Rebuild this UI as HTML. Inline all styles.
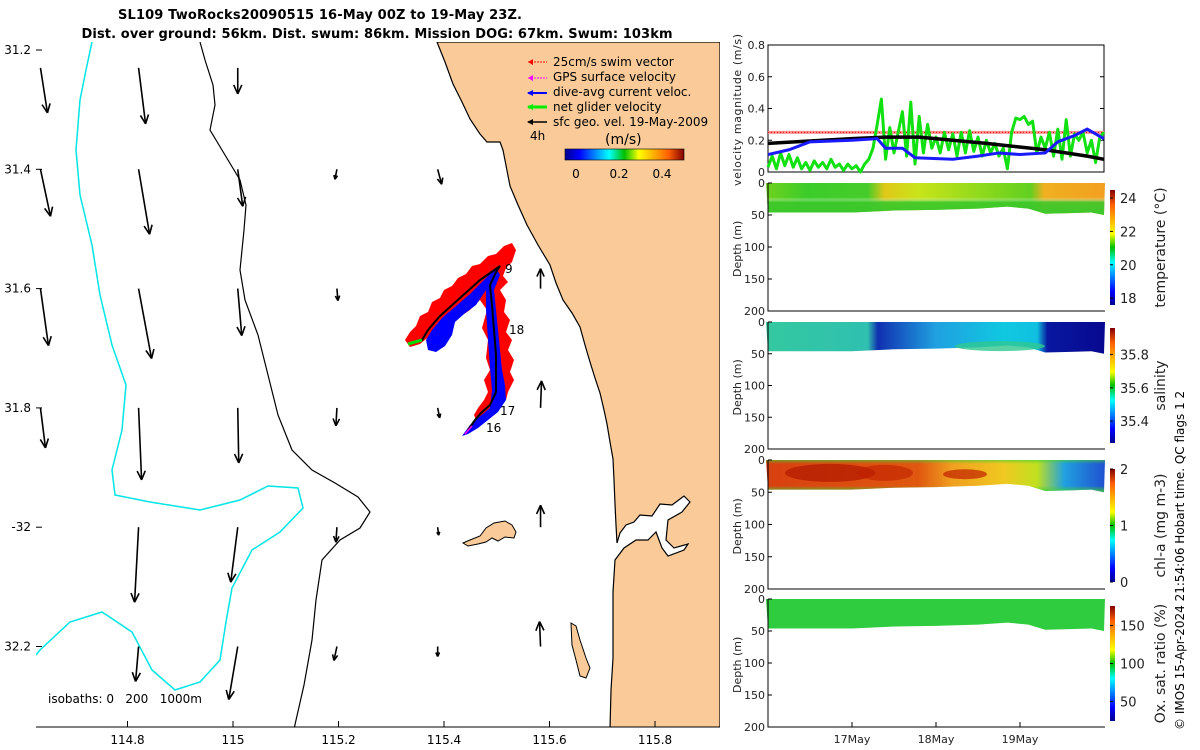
<!DOCTYPE html>
<html><head><meta charset="utf-8"><style>
html,body{margin:0;padding:0;background:#fff;}
svg{display:block;font-family:"DejaVu Sans","Liberation Sans",sans-serif;}
</style></head><body>
<svg id="fig" width="1200" height="750" viewBox="0 0 1200 750" xmlns="http://www.w3.org/2000/svg">
<defs>
<linearGradient id="jetV" x1="0" y1="1" x2="0" y2="0">
<stop offset="0" stop-color="#00008f"/><stop offset="0.12" stop-color="#0000ff"/><stop offset="0.37" stop-color="#00ffff"/><stop offset="0.5" stop-color="#00c000"/><stop offset="0.62" stop-color="#ffff00"/><stop offset="0.87" stop-color="#ff6000"/><stop offset="1" stop-color="#800000"/></linearGradient>
<linearGradient id="jetH" x1="0" y1="0" x2="1" y2="0">
<stop offset="0" stop-color="#00008f"/><stop offset="0.12" stop-color="#0000ff"/><stop offset="0.37" stop-color="#00ffff"/><stop offset="0.5" stop-color="#00c000"/><stop offset="0.62" stop-color="#ffff00"/><stop offset="0.87" stop-color="#ff6000"/><stop offset="1" stop-color="#800000"/></linearGradient>
<linearGradient id="tempG" x1="0" y1="0" x2="1" y2="0">
<stop offset="0" stop-color="#6fd21e"/><stop offset="0.12" stop-color="#3ccc2a"/><stop offset="0.3" stop-color="#46cc2a"/><stop offset="0.35" stop-color="#e0c818"/><stop offset="0.45" stop-color="#c8e41a"/><stop offset="0.65" stop-color="#8ad81c"/><stop offset="0.78" stop-color="#60d020"/><stop offset="0.82" stop-color="#f0b020"/><stop offset="1" stop-color="#f2a020"/></linearGradient>
<linearGradient id="tempV" x1="0" y1="0" x2="0" y2="1">
<stop offset="0" stop-color="#fff" stop-opacity="0"/><stop offset="0.45" stop-color="#fff" stop-opacity="0"/><stop offset="0.6" stop-color="#3cc82a" stop-opacity="0.9"/><stop offset="1" stop-color="#3cc82a" stop-opacity="1"/></linearGradient>
<linearGradient id="salG" x1="0" y1="0" x2="1" y2="0">
<stop offset="0" stop-color="#34c8a0"/><stop offset="0.3" stop-color="#30c0b0"/><stop offset="0.33" stop-color="#1030b0"/><stop offset="0.5" stop-color="#20a0e0"/><stop offset="0.7" stop-color="#10c8e0"/><stop offset="0.8" stop-color="#10c0e0"/><stop offset="0.83" stop-color="#0818a0"/><stop offset="1" stop-color="#080890"/></linearGradient>
<linearGradient id="chlG" x1="0" y1="0" x2="1" y2="0">
<stop offset="0" stop-color="#d84010"/><stop offset="0.45" stop-color="#e05810"/><stop offset="0.55" stop-color="#f0a020"/><stop offset="0.7" stop-color="#f0c820"/><stop offset="0.8" stop-color="#c0e020"/><stop offset="0.88" stop-color="#20a0e0"/><stop offset="1" stop-color="#2050d0"/></linearGradient>
<linearGradient id="chlV" x1="0" y1="0" x2="0" y2="1">
<stop offset="0" stop-color="#40d030" stop-opacity="0.6"/><stop offset="0.12" stop-color="#40d030" stop-opacity="0"/><stop offset="0.8" stop-color="#40d030" stop-opacity="0"/><stop offset="1" stop-color="#40d030" stop-opacity="0.9"/></linearGradient>
</defs>

<text x="320" y="19" text-anchor="middle" font-weight="bold" font-size="13" textLength="404">SL109 TwoRocks20090515 16-May 00Z to 19-May 23Z.</text>
<text x="377" y="38" text-anchor="middle" font-weight="bold" font-size="13" textLength="591">Dist. over ground: 56km. Dist. swum: 86km. Mission DOG: 67km. Swum: 103km</text>

<g id="map">
<clipPath id="mapClip"><rect x="36" y="42" width="684" height="685"/></clipPath>
<g clip-path="url(#mapClip)">
<path fill="#facb98" stroke="#000" stroke-width="1.2" d="M437,42 L445,62 L453,84 L462,102 L470,119 L480,134 L487,142 L500,142 L503,150 L510,186 L518,205 L527,225 L538,245 L550,265 L556,283 L563,300 L572,313 L580,327 L585,345 L590,362 L595,378 L600,393 L604,410 L607,424 L610,442 L613,459 L614,480 L615,504 L616,525 L617,543 L620,533 L626,525 L634,522 L640,515 L652,516 L660,504 L672,505 L684,496 L690,502 L682,512 L668,520 L666,540 L674,548 L688,544 L684,550 L668,556 L662,548 L656,532 L648,540 L636,540 L624,548 L615,560 L613,592 L613,620 L613,658 L611,690 L610,729 L720,729 L720,42 Z"/>
<path fill="#facb98" stroke="#000" stroke-width="1" d="M463,543 L470,540 L480,536 L486,528 L494,523 L505,521 L512,525 L516,532 L514,538 L505,537 L498,541 L492,538 L486,542 L478,544 L468,546 Z"/>
<path fill="#facb98" stroke="#000" stroke-width="1" d="M571,623 L576,626 L580,640 L586,658 L590,668 L586,678 L580,676 L576,660 L572,645 Z"/>
<path fill="none" stroke="#000" stroke-width="1.2" d="M200,42 L205,60 L213,85 L215,105 L210,130 L225,155 L240,180 L246,205 L244,230 L240,270 L245,300 L258,335 L268,375 L278,415 L292,450 L312,470 L335,483 L358,497 L370,512 L360,528 L340,540 L322,560 L316,600 L312,640 L304,685 L294,729"/>
<path fill="none" stroke="#00e5e5" stroke-width="1.5" d="M92,42 L86,70 L80,100 L76,150 L80,195 L92,245 L100,295 L112,345 L126,385 L122,430 L112,470 L115,495 L150,502 L200,510 L240,500 L268,486 L298,488 L303,508 L280,532 L252,550 L232,588 L226,622 L220,660 L200,682 L175,690 L152,670 L132,632 L102,612 L70,622 L40,650 L36,655"/>
<g id="vecs"></g>
<g id="track">
<path fill="#ff0000" d="M405,340 L410,332 L416,326 L420,316 L428,312 L432,302 L440,298 L444,290 L452,286 L458,278 L466,274 L472,266 L480,264 L488,256 L496,254 L504,246 L512,243 L516,250 L512,262 L506,268 L503,276 L508,282 L500,290 L506,300 L504,312 L510,320 L506,332 L512,340 L508,350 L514,360 L510,372 L514,380 L508,392 L506,400 L498,404 L495,412 L486,420 L478,425 L474,415 L478,408 L484,400 L488,392 L484,380 L490,370 L486,358 L488,340 L482,328 L487,310 L480,300 L470,310 L458,318 L446,326 L432,334 L420,344 L410,347 Z"/>
<path fill="#0000ff" d="M426,340 L432,330 L442,318 L456,306 L470,294 L484,280 L496,268 L500,275 L494,290 L496,310 L498,330 L500,350 L502,370 L505,385 L506,400 L498,412 L488,420 L478,428 L468,434 L462,436 L470,425 L478,418 L490,408 L492,390 L490,368 L488,340 L486,310 L486,290 L476,305 L464,314 L455,322 L452,335 L445,346 L436,352 L428,350 Z"/>
<path fill="none" stroke="#000" stroke-width="2" d="M410,344 L422,340 L428,330 L440,316 L460,298 L480,280 L500,266 L496,272 L490,285 L492,305 L494,330 L496,355 L496,375 L496,392 L490,405 L482,412 L475,420 L468,430"/>
<path stroke="#00e000" stroke-width="3" d="M408,344 L422,340"/>
<path stroke="#ff00ff" stroke-width="1.5" d="M465,434 L472,426"/>
<text x="505" y="273" font-size="12">9</text>
<text x="509" y="334" font-size="12">18</text>
<text x="500" y="415" font-size="12">17</text>
<text x="486" y="432" font-size="12">16</text>
</g>
</g>
<g font-size="12">
<line x1="528" y1="62" x2="547" y2="62" stroke="#f00" stroke-width="1" stroke-dasharray="2,1"/><path d="M528,62 l5,-3 v6z" fill="#f00"/>
<text x="553" y="66">25cm/s swim vector</text>
<line x1="528" y1="78" x2="547" y2="78" stroke="#f0f" stroke-width="1" stroke-dasharray="2,1"/><path d="M528,78 l5,-3 v6z" fill="#f0f"/>
<text x="553" y="81">GPS surface velocity</text>
<line x1="528" y1="93" x2="547" y2="93" stroke="#00f" stroke-width="2"/><path d="M527,93 l6,-3 v6z" fill="#00f"/>
<text x="553" y="96">dive-avg current veloc.</text>
<line x1="528" y1="107" x2="547" y2="107" stroke="#0e0" stroke-width="3"/><path d="M527,107 l6,-3 v6z" fill="#0e0"/>
<text x="553" y="111">net glider velocity</text>
<line x1="528" y1="122" x2="547" y2="122" stroke="#000" stroke-width="1.5"/><path d="M527,122 l6,-3 v6z" fill="#000"/>
<text x="553" y="126">sfc geo. vel. 19-May-2009</text>
<text x="530" y="140">4h</text>
<text x="605" y="144" font-size="14">(m/s)</text>
<rect x="565" y="149" width="119" height="11" fill="url(#jetH)" stroke="#000" stroke-width="0.6"/>
<text x="576" y="178" text-anchor="middle">0</text>
<text x="619" y="178" text-anchor="middle">0.2</text>
<text x="662" y="178" text-anchor="middle">0.4</text>
</g>
<text x="48" y="703" font-size="12">isobaths: 0&#160;&#160;&#160;200&#160;&#160;&#160;1000m</text>
<line x1="36" y1="727" x2="720" y2="727" stroke="#000" stroke-width="1"/>
<g id="mapTicks" font-size="12"></g>
</g>

<g id="vel"></g>
<g id="sections"></g>
<text transform="translate(1184,730) rotate(-90)" font-size="12">© IMOS 15-Apr-2024 21:54:06 Hobart time. QC flags 1  2</text>
</svg>
<script>
const lonTicks = [114.8, 115, 115.2, 115.4, 115.6, 115.8];
const latTicks = [31.2, 31.4, 31.6, 31.8, 32, 32.2];
const latLabels = ["31.2", "31.4", "31.6", "31.8", "-32", "32.2"];
const vecLons = [114.635, 114.821, 115.009, 115.197, 115.388, 115.583];
const vecLats = [31.23, 31.40, 31.60, 31.80, 32.00, 32.20];
const vecU = [
 [0.035,0.035,0,0,0,0],
 [0.05,0.055,0.025,-0.01,0.02,0],
 [0.04,0.065,0.02,0.005,0,0],
 [0.025,0.015,0.005,-0.005,0.01,0.005],
 [0,-0.02,-0.035,-0.005,0.005,0],
 [0,-0.015,-0.045,-0.015,0,-0.005]];
const vecV = [
 [-0.225,-0.28,-0.13,0,0,0],
 [-0.235,-0.325,-0.185,-0.05,-0.075,0],
 [-0.285,-0.35,-0.235,-0.06,0,0.1],
 [-0.2,-0.36,-0.275,-0.09,-0.05,0.135],
 [0,-0.375,-0.275,-0.075,-0.04,0.11],
 [0,-0.175,-0.265,-0.07,-0.05,0.125]];
const greenVel = [0.03,0.10,0.02,0.12,0.04,0.11,0.03,0.09,0.02,0.06,0.01,0.07,0.03,0.06,0.02,0.08,0.03,0.05,0.01,0.05,0.02,0.04,0.00,0.05,0.08,
 0.15,0.30,0.46,0.08,0.28,0.12,0.25,0.38,0.10,0.44,0.05,0.35,0.12,0.30,0.15,
 0.22,0.12,0.25,0.14,0.24,0.10,0.25,0.12,0.26,0.13,0.22,0.10,0.20,0.12,0.18,0.10,0.15,
 0.02,0.25,0.34,0.33,0.35,0.30,0.32,
 0.12,0.22,0.15,0.25,0.10,0.27,0.08,0.33,0.10,0.24,0.20,0.25,0.12,0.20,0.06,0.22,0.25];
const blueT = [0,0.25,0.5,1.0,1.3,1.4,1.6,1.75,2.2,2.5,2.75,3.0,3.3,3.45,3.65,3.8,4.0];
const blueVel = [0.11,0.14,0.19,0.20,0.21,0.15,0.15,0.09,0.08,0.10,0.12,0.11,0.12,0.19,0.23,0.27,0.21];
const blackT = [0,1.0,1.4,1.8,2.6,3.3,3.8,4.0];
const blackVel = [0.18,0.21,0.22,0.22,0.18,0.14,0.10,0.08];
const swimRef = 0.25;
const velTicks = [0,0.2,0.4,0.6,0.8];
const velTickLabels = ["0","0.2","0.4","0.6","0.8"];
const dayTicks = [1,2,3];
const dayLabels = ["17May","18May","19May"];
const depthTicks = [0,50,100,150,200];
const bandT = [0,0.5,1.0,1.5,2.0,2.5,2.85,3.1,3.3,3.6,3.85,4.0];
const bandDepth = [46,46,46,43,42,40,37,40,48,47,46,50];

const NS='http://www.w3.org/2000/svg';
function mk(tag, attrs, parent){const e=document.createElementNS(NS,tag);for(const k in attrs)e.setAttribute(k,attrs[k]);(parent||document.getElementById('fig')).appendChild(e);return e;}

const lonX = lon => 233 + (lon-115)*527.5;
const latY = lat => 50 + (lat-31.2)*596.5;
const mt = document.getElementById('mapTicks');
lonTicks.forEach((v,i)=>{
  const x=lonX(v);
  const t=mk('line',{x1:x,y1:727,x2:x,y2:721,stroke:'#000'},mt);
  
  
  const l=mk('text',{x:x,y:744,'text-anchor':'middle'},mt); l.textContent=String(v);
  
  
});
latTicks.forEach((v,i)=>{
  const y=latY(v);
  const t=mk('line',{x1:36,y1:y,x2:42,y2:y,stroke:'#000'},mt);
  
  
  const l=mk('text',{x:31,y:y+4,'text-anchor':'end'},mt); l.textContent=latLabels[i];
  
  
});
const vg=document.getElementById('vecs');
const vs=200;
for(let r=0;r<vecLats.length;r++)for(let c=0;c<vecLons.length;c++){
  const u=vecU[r][c], v=vecV[r][c];
  if(u===0&&v===0)continue;
  const x0=lonX(vecLons[c]), y0=latY(vecLats[r]);
  const x1=x0+u*vs, y1=y0-v*vs;
  const g=mk('g',{},vg);
  
  
  mk('line',{x1:x0,y1:y0,x2:x1,y2:y1,stroke:'#000','stroke-width':1.6},g);
  const L=Math.hypot(x1-x0,y1-y0), ux=(x1-x0)/L, uy=(y1-y0)/L, h=Math.min(9,L*0.4);
  mk('path',{d:`M${x1},${y1} L${x1-ux*h-uy*h*0.45},${y1-uy*h+ux*h*0.45} M${x1},${y1} L${x1-ux*h+uy*h*0.45},${y1-uy*h-ux*h*0.45}`,stroke:'#000','stroke-width':1.6,fill:'none'},g);
}

const X0=768, X1=1104;
const tX = t => X0 + t/4*(X1-X0);
const vp=document.getElementById('vel');
const VY0=172, VY1=45;
const vY = v => VY0 - v/0.8*(VY0-VY1);
const fr=mk('rect',{x:X0,y:VY1,width:X1-X0,height:VY0-VY1,fill:'none',stroke:'#000','stroke-width':1},vp);


velTicks.forEach((v,i)=>{
  const y=vY(v);
  mk('line',{x1:X0,y1:y,x2:X0+4,y2:y,stroke:'#000'},vp);
  mk('line',{x1:X1,y1:y,x2:X1-4,y2:y,stroke:'#000'},vp);
  const l=mk('text',{x:X0-3,y:y+4,'text-anchor':'end','font-size':11,fill:'#222'},vp); l.textContent=velTickLabels[i];
  
  
});
const yl=mk('text',{transform:'translate(741,186) rotate(-90)','font-size':11,fill:'#222',textLength:152},vp); yl.textContent='velocity magnitude (m/s)';


let ln=mk('line',{x1:X0,y1:vY(swimRef),x2:X1,y2:vY(swimRef),stroke:'#ff9090','stroke-width':3},vp);


ln=mk('line',{x1:X0,y1:vY(swimRef),x2:X1,y2:vY(swimRef),stroke:'#e00000','stroke-width':1,'stroke-dasharray':'1,2'},vp);


let p=mk('polyline',{points:greenVel.map((v,i)=>tX(i*0.05)+','+vY(v)).join(' '),fill:'none',stroke:'#11e011','stroke-width':3,'stroke-linejoin':'round'},vp);


p=mk('polyline',{points:blackT.map((t,i)=>tX(t)+','+vY(blackVel[i])).join(' '),fill:'none',stroke:'#000','stroke-width':3.5},vp);


p=mk('polyline',{points:blueT.map((t,i)=>tX(t)+','+vY(blueVel[i])).join(' '),fill:'none',stroke:'#1a1aff','stroke-width':3},vp);



const sec=document.getElementById('sections');
const panels=[
 {top:183,bot:311,fill:'url(#tempG)',over:'url(#tempV)',name:'temperature',label:'temperature (°C)',cb:[190,305],ticks:[[24,0.93],[22,0.64],[20,0.35],[18,0.06]]},
 {top:322,bot:449,fill:'url(#salG)',over:null,name:'salinity',label:'salinity',cb:[328,443],ticks:[[35.8,0.77],[35.6,0.48],[35.4,0.19]]},
 {top:460,bot:589,fill:'url(#chlG)',over:'url(#chlV)',name:'chl-a',label:'chl-a (mg m-3)',cb:[469,582],ticks:[[2,1],[1,0.5],[0,0]]},
 {top:599,bot:727,fill:'#30cc40',over:null,name:'oxygen',label:'Ox. sat. ratio (%)',cb:[606,721],ticks:[[150,0.83],[100,0.5],[50,0.17]]}];
panels.forEach((P,pi)=>{
  const g=mk('g',{},sec);
  
  
  const dY=d=>P.top+d/200*(P.bot-P.top);
  let pts=`${X0-2},${P.top} ${X1+1},${P.top} `+bandT.slice().reverse().map((t,i)=>{const k=bandT.length-1-i;return tX(t)+','+dY(bandDepth[k]);}).join(' ');
  mk('polygon',{points:pts,fill:P.fill},g);
  if(P.over) mk('polygon',{points:pts,fill:P.over},g);
  if(pi===2){
    mk('ellipse',{cx:830,cy:dY(20),rx:45,ry:9,fill:'#b01800',opacity:0.7},g);
    mk('ellipse',{cx:885,cy:dY(20),rx:28,ry:8,fill:'#c02000',opacity:0.6},g);
    mk('ellipse',{cx:965,cy:dY(22),rx:22,ry:5,fill:'#c02000',opacity:0.7},g);
  }
  if(pi===1){
    mk('ellipse',{cx:1000,cy:dY(38),rx:45,ry:5,fill:'#30c890',opacity:0.8},g);
  }
  mk('path',{d:`M${X0},${P.top} V${P.bot} H${X1+1}`,fill:'none',stroke:'#000','stroke-width':1},g);
  depthTicks.forEach(d=>{
    const y=dY(d);
    mk('line',{x1:X0,y1:y,x2:X0+4,y2:y,stroke:'#000'},g);
    const l=mk('text',{x:X0-3,y:y+4,'text-anchor':'end','font-size':11,fill:'#222'},g); l.textContent=String(d);
    
    
  });
  const t=mk('text',{transform:`translate(741,${(P.top+P.bot)/2+30}) rotate(-90)`,'font-size':11,fill:'#222'},g); t.textContent='Depth (m)';
  
  
  const cb=mk('rect',{x:1110,y:P.cb[0],width:5,height:P.cb[1]-P.cb[0],fill:'url(#jetV)'},g);
  
  
  P.ticks.forEach(tk=>{
    const y=P.cb[1]-tk[1]*(P.cb[1]-P.cb[0]);
    mk('line',{x1:1110,y1:y,x2:1113,y2:y,stroke:'#000'},g);
    const l=mk('text',{x:1120,y:y+5,'font-size':13,fill:'#222'},g); l.textContent=String(tk[0]);
    
    
  });
  const cl=mk('text',{transform:`translate(1165,${(P.cb[0]+P.cb[1])/2}) rotate(-90)`,'text-anchor':'middle','font-size':14,fill:'#222'},g); cl.textContent=P.label;
  
  
});
dayTicks.forEach((d,i)=>{
  const x=tX(d);
  mk('line',{x1:x,y1:727,x2:x,y2:722,stroke:'#000'},sec);
  const l=mk('text',{x:x,y:743,'text-anchor':'middle','font-size':11,fill:'#222'},sec); l.textContent=dayLabels[i];
  
  
});
</script>
</body></html>
